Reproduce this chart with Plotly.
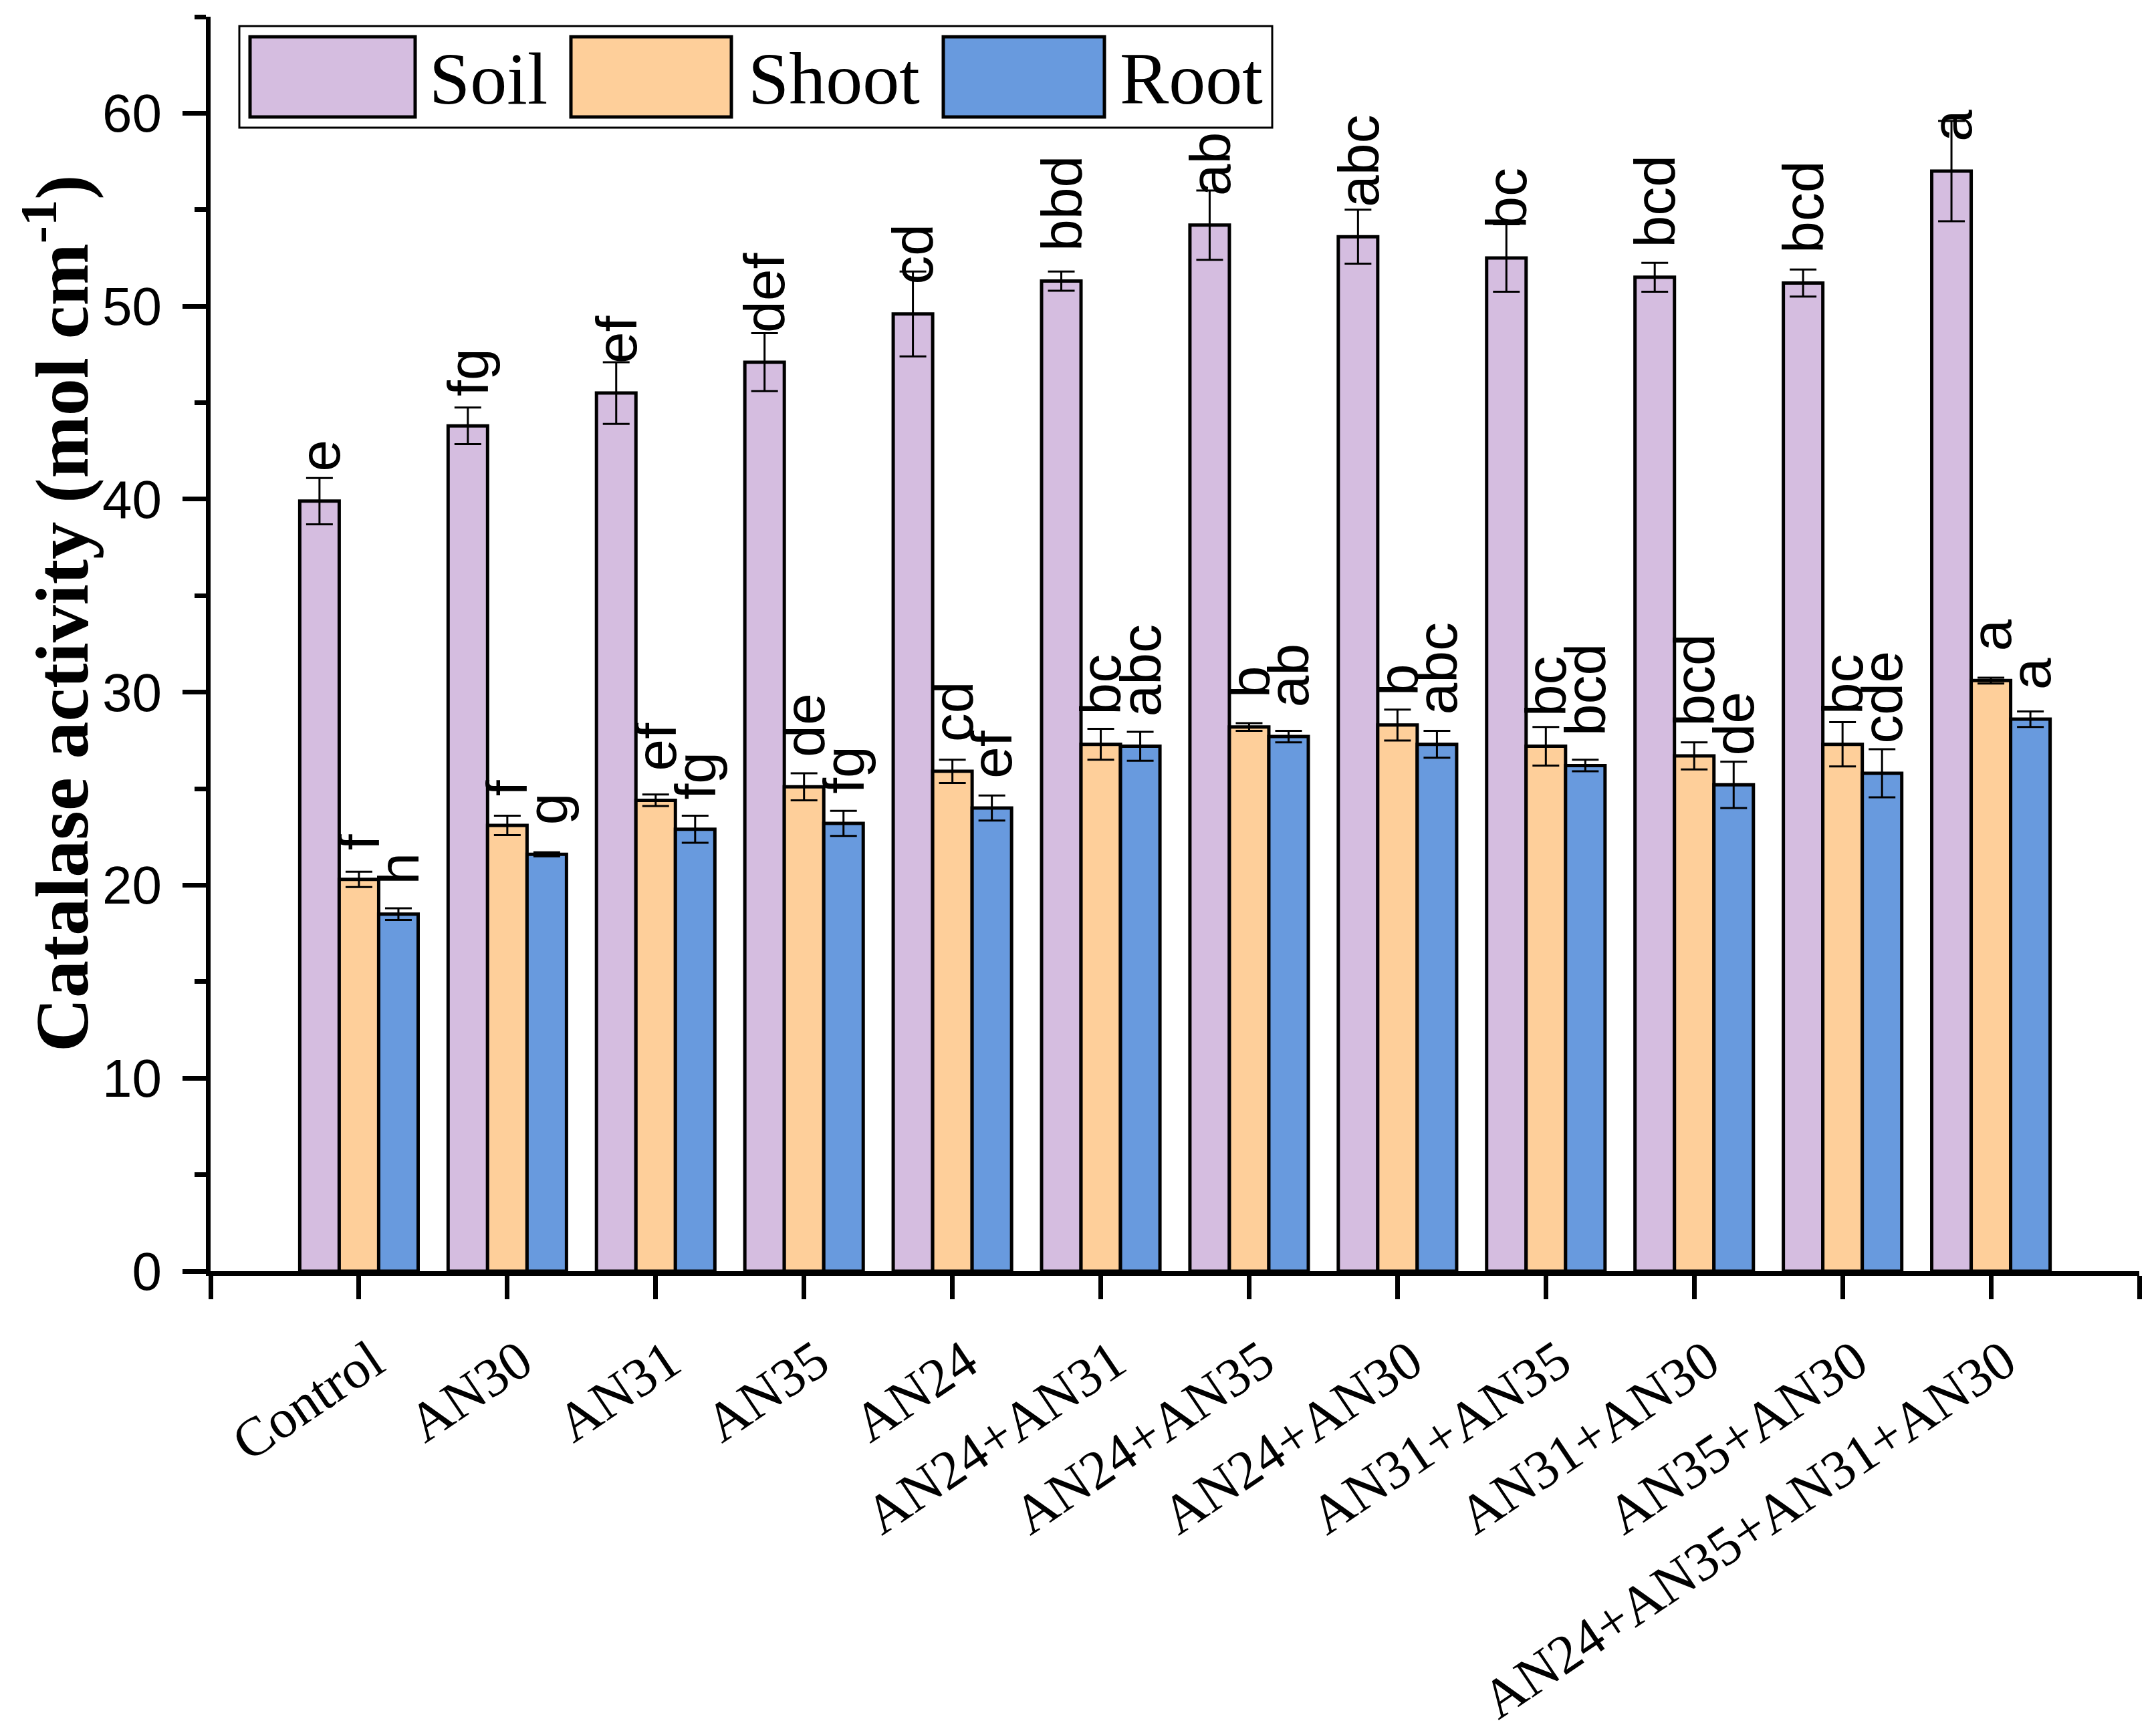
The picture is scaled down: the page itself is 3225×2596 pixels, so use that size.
import plotly.graph_objects as go

categories = ["Control", "AN30", "AN31", "AN35", "AN24", "AN24+AN31", "AN24+AN35",
              "AN24+AN30", "AN31+AN35", "AN31+AN30", "AN35+AN30", "AN24+AN35+AN31+AN30"]

soil = [39.9, 43.8, 45.5, 47.1, 49.6, 51.3, 54.2, 53.6, 52.5, 51.5, 51.2, 57.0]
soil_err = [1.2, 0.95, 1.6, 1.5, 2.2, 0.5, 1.8, 1.4, 1.75, 0.75, 0.7, 2.6]
shoot = [20.3, 23.1, 24.4, 25.1, 25.9, 27.3, 28.2, 28.3, 27.2, 26.7, 27.3, 30.6]
shoot_err = [0.4, 0.5, 0.3, 0.7, 0.6, 0.8, 0.2, 0.8, 1.0, 0.7, 1.15, 0.15]
root = [18.5, 21.6, 22.9, 23.2, 24.0, 27.2, 27.7, 27.3, 26.2, 25.2, 25.8, 28.6]
root_err = [0.3, 0.1, 0.7, 0.65, 0.65, 0.75, 0.3, 0.7, 0.3, 1.2, 1.25, 0.4]

soil_letters = ["e", "fg", "ef", "def", "cd", "bbd", "ab", "abc", "bc", "bcd", "bcd", "a"]
shoot_letters = ["f", "f", "ef", "de", "cd", "bc", "b", "b", "bc", "bcd", "bc", "a"]
root_letters = ["h", "g", "fg", "fg", "ef", "abc", "ab", "abc", "bcd", "de", "cde", "a"]

series_names = ["Soil", "Shoot", "Root"]
colors = ["#D5BDE0", "#FECF9A", "#689ADE"]

W, H = 3225, 2596
OFF = 8  # page body margin offset
L, R, T, B = 307, 33, 17, 702
PW, PH = W - L - R, H - T - B


def px(xp):
    # window pixel -> paper x
    return (xp - OFF - L) / PW


def py(yp):
    # window pixel -> paper y
    return (H - B - (yp - OFF)) / PH


BW = 0.266
offsets = [-BW, 0.0, BW]
xs = list(range(1, len(categories) + 1))

fig = go.Figure()
annotations = []
all_vals = [soil, shoot, root]
all_errs = [soil_err, shoot_err, root_err]
all_letters = [soil_letters, shoot_letters, root_letters]

for k in range(3):
    xpos = [x + offsets[k] for x in xs]
    fig.add_trace(go.Bar(
        x=xpos, y=all_vals[k], width=BW, name=series_names[k],
        marker=dict(color=colors[k], line=dict(color="black", width=5)),
        error_y=dict(type="data", array=all_errs[k], color="black", thickness=3, width=20),
        showlegend=False,
    ))
    for xv, v, lab in zip(xpos, all_vals[k], all_letters[k]):
        annotations.append(dict(
            x=xv, y=v, xref="x", yref="y", text=lab, showarrow=False,
            textangle=-90, xanchor="center", yanchor="bottom", xshift=0, yshift=42,
            font=dict(family="Liberation Sans, Arial", size=86, color="black"),
        ))

# y axis title
annotations.append(dict(
    x=px(84), y=py(918), xref="paper", yref="paper", showarrow=False, textangle=-90,
    text="<b>Catalase activity (mol cm<sup>-1</sup>)</b>", xanchor="center", yanchor="middle",
    font=dict(family="Liberation Serif, Times New Roman", size=112, color="black"),
))

shapes = []
# custom legend
shapes.append(dict(type="rect", xref="paper", yref="paper", x0=px(358), x1=px(1903),
                   y0=py(191), y1=py(39), line=dict(color="black", width=3), fillcolor="white", layer="above"))
sw = [(374, 621, 640), (854, 1094, 1117), (1411, 1652, 1673)]
for k, (a, b, t) in enumerate(sw):
    shapes.append(dict(type="rect", xref="paper", yref="paper", x0=px(a), x1=px(b),
                       y0=py(175), y1=py(55), line=dict(color="black", width=5),
                       fillcolor=colors[k], layer="above"))
    annotations.append(dict(x=px(t), y=py(118), xref="paper", yref="paper", showarrow=False,
                            text=series_names[k], xanchor="left", yanchor="middle",
                            font=dict(family="Liberation Serif, Times New Roman", size=110, color="black")))

fig.update_layout(
    width=W, height=H,
    margin=dict(l=L, r=R, t=T, b=B, pad=0, autoexpand=False),
    paper_bgcolor="white", plot_bgcolor="white",
    barmode="overlay",
    annotations=annotations, shapes=shapes,
    showlegend=False,
)
fig.update_xaxes(
    automargin=False,
    range=[0, 13], tickmode="array", tickvals=xs,
    ticktext=categories, tickangle=-34,
    ticks="outside", ticklen=35, tickwidth=7, tickcolor="black",
    minor=dict(tickmode="array", tickvals=[0, 13], ticks="outside", ticklen=35,
               tickwidth=7, tickcolor="black"),
    ticklabelstandoff=13, ticklabelshift=20,
    showline=True, linewidth=7, linecolor="black", showgrid=False, zeroline=False,
    tickfont=dict(family="Liberation Serif, Times New Roman", size=82, color="black"),
)
fig.update_yaxes(
    automargin=False,
    range=[0, 65], tickmode="linear", tick0=0, dtick=10,
    ticks="outside", ticklen=35, tickwidth=7, tickcolor="black",
    ticklabelstandoff=15,
    minor=dict(ticks="outside", ticklen=17, tickwidth=7, tickcolor="black", tick0=0, dtick=5),
    showline=True, linewidth=7, linecolor="black", showgrid=False, zeroline=False,
    tickfont=dict(family="Liberation Sans, Arial", size=80, color="black"),
)

fig.write_html("out.html")
